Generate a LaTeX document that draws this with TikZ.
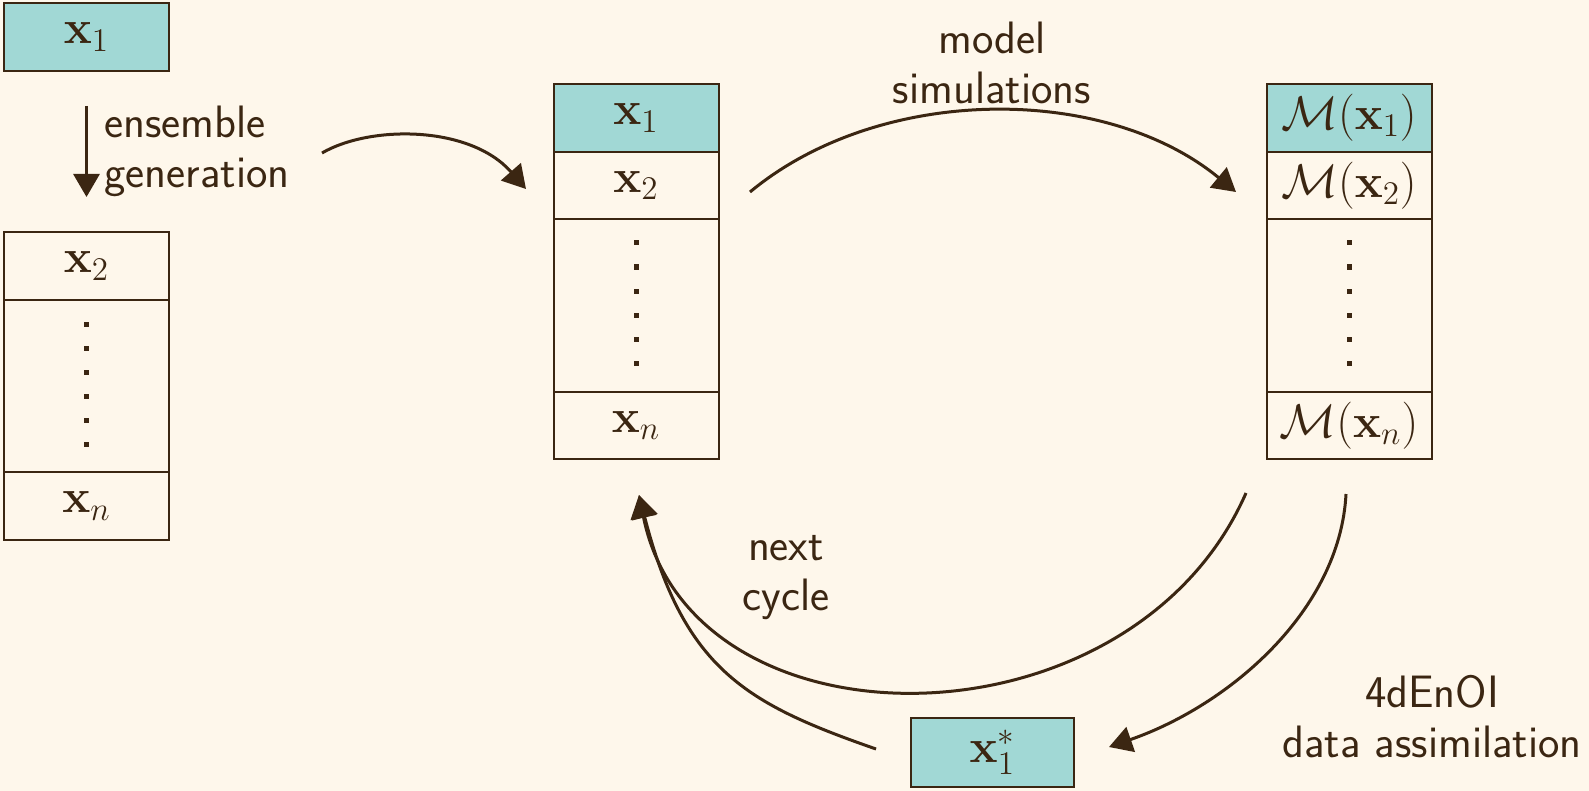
\RequirePackage{fix-cm}
\documentclass[tikz,border=0pt]{standalone}
\usetikzlibrary{arrows.meta,calc}
\definecolor{bgc}{HTML}{FEF7EB}
\definecolor{tealc}{HTML}{A1D8D5}
\definecolor{linec}{HTML}{3B2612}
\begin{document}
\begin{tikzpicture}[x=0.5pt,y=-0.5pt,
  cell/.style={draw=linec, line width=1pt, minimum width=82.5pt, inner sep=0pt, outer sep=0pt, text=linec, font=\fontsize{23.6}{27}\selectfont},
  hl/.style={fill=tealc},
  lbl/.style={text=linec, font=\sffamily\fontsize{22.7}{25}\selectfont, inner sep=0pt, align=center},
  arr/.style={draw=linec, line width=1.5pt, -{Triangle[length=11.5pt,width=13pt]}}]
\fill[bgc] (0,0) rectangle (1589,791);
\useasboundingbox (0,0) rectangle (1589,791);

% left column
\node[cell,hl,minimum height=34pt] (X1) at (86.5,37) {$\mathbf{x}_1$};
\node[cell,minimum height=34pt] (L2) at (86.5,266) {$\mathbf{x}_2$};
\node[cell,minimum height=86pt] (Ld) at (86.5,386) {};
\node[cell,minimum height=34pt] (Ln) at (86.5,506) {$\mathbf{x}_n$};

% middle column
\node[cell,hl,minimum height=34pt] (M1) at (636,118) {$\mathbf{x}_1$};
\node[cell,minimum height=33.5pt] (M2) at (636,185.5) {$\mathbf{x}_2$};
\node[cell,minimum height=86.5pt] (Md) at (636,305.5) {};
\node[cell,minimum height=33.5pt] (Mn) at (636,425.5) {$\mathbf{x}_n$};

% right column
\node[cell,hl,minimum height=34pt] (R1) at (1349,118) {$\mathcal{M}(\mathbf{x}_1)$};
\node[cell,minimum height=33.5pt] (R2) at (1349,185.5) {$\mathcal{M}(\mathbf{x}_2)$};
\node[cell,minimum height=86.5pt] (Rd) at (1349,305.5) {};
\node[cell,minimum height=33.5pt] (Rn) at (1349,425.5) {$\mathcal{M}(\mathbf{x}_n)$};

% analysis
\node[cell,hl,minimum width=81.5pt,minimum height=34.5pt] (XS) at (992.5,752.5) {$\mathbf{x}_1^*$};

% dots
\foreach \n in {Ld,Md,Rd}{
  \foreach \k in {0,...,5}{
    \fill[linec] ($(\n.north)+(-2.5,21.5+24*\k)$) rectangle +(5,5);
  }
}

% labels
\node[lbl,anchor=west,align=left] (lens) at (104,151) {ensemble\\generation};
\node[lbl] (lmod) at (992,63) {model\\simulations};
\node[lbl] (lnext) at (786,578) {next\\cycle};
\node[lbl] (lda) at (1432,717) {4dEnOI\\data assimilation};

% connector coordinates
\coordinate (a0) at (322,153);
\coordinate (a1) at (526,189);
\coordinate (b0) at (750,192);
\coordinate (b1) at (1236,192);
\coordinate (c0) at (1246,493);
\coordinate (tip) at (639,495);
\coordinate (d0) at (876,749);
\coordinate (e0) at (1346,494);
\coordinate (e1) at (1109,747);

% connectors
\draw[arr,shorten <=17.5pt,shorten >=17.5pt] (X1.south) -- (L2.north);
\draw[arr] (a0) .. controls (370,125) and (470,125) .. (a1);
\draw[arr] (b0) .. controls (880,84) and (1105,84) .. (b1);
\draw[arr] (c0) .. controls (1131,755) and (692,757) .. (tip);
\draw[arr] (d0) .. controls (747,704) and (684,670) .. (tip);
\draw[arr] (e0) .. controls (1340,610) and (1230,705) .. (e1);
\end{tikzpicture}
\end{document}
